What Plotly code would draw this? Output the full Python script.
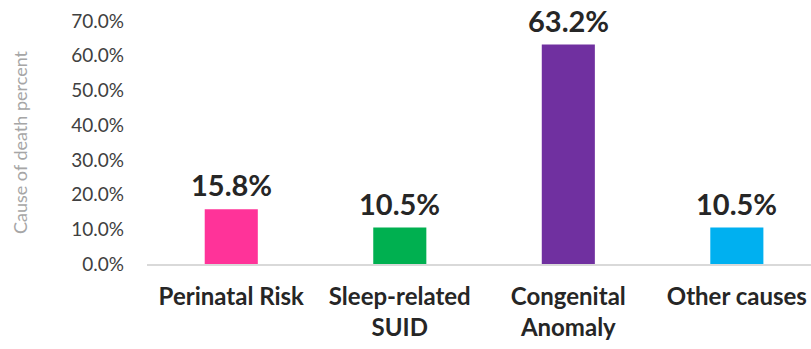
import plotly.graph_objects as go

# Share of infant deaths by cause
categories = ["Perinatal Risk", "Sleep-related<br>SUID", "Congenital<br>Anomaly", "Other causes"]
percent_values = [15.8, 10.5, 63.2, 10.5]
bar_colors = ["#FF3399", "#00B050", "#7030A0", "#00B0F0"]
y_ticks = [0, 10, 20, 30, 40, 50, 60, 70]

shares = [v / 100 for v in percent_values]

fig = go.Figure(
    go.Bar(
        x=categories,
        y=shares,
        marker=dict(color=bar_colors, line=dict(width=0)),
        width=0.315,
        hoverinfo="skip",
    )
)

# Value labels above each bar
for cat, val in zip(categories, shares):
    fig.add_annotation(
        x=cat, y=val, xref="x", yref="y",
        text=f"<b>{val:.1%}</b>",
        showarrow=False, yanchor="bottom", yshift=6, borderpad=0,
        font=dict(family="Lato", size=29, color="#262626"),
    )

fig.update_layout(
    width=811, height=349,
    margin=dict(l=147, r=0, t=21, b=85),
    paper_bgcolor="white", plot_bgcolor="white",
    showlegend=False,
    font=dict(family="Lato"),
    xaxis=dict(
        range=[-0.5, 3.44],
        showgrid=False, zeroline=False,
        showline=True, linecolor="#D9D9D9", linewidth=1.5,
        ticks="", ticklabelstandoff=10,
        tickfont=dict(family="Lato", size=24, color="#262626", weight="bold"),
    ),
    yaxis=dict(
        range=[0, 0.7],
        tickvals=[t / 100 for t in y_ticks],
        tickformat=".1%",
        showgrid=False, zeroline=False, showline=False,
        ticks="", ticklabelstandoff=22,
        tickfont=dict(family="Lato", size=19, color="#404040"),
        title=dict(text="Cause of death percent", standoff=38,
                   font=dict(family="Lato", size=18, color="#A6A6A6")),
    ),
)

fig.write_html("out.html")
